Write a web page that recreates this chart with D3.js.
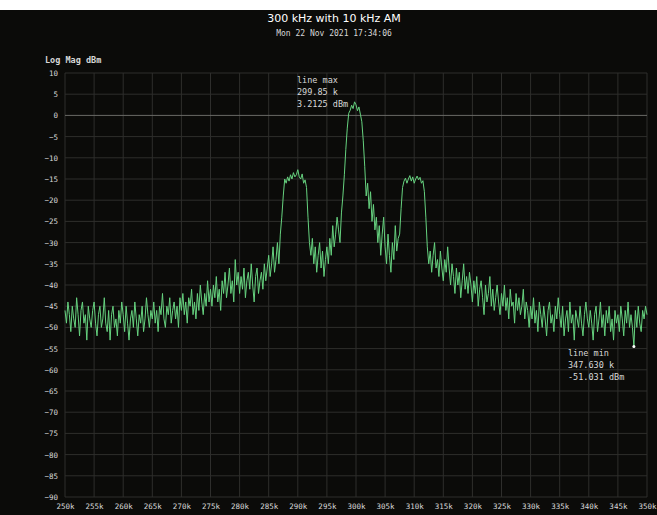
<!DOCTYPE html>
<html>
<head>
<meta charset="utf-8">
<script src="https://cdn.jsdelivr.net/npm/d3@7"></script>
<style>
  html, body { margin: 0; padding: 0; background: #0b0b09; }
  svg { display: block; }
</style>
</head>
<body>
<script>
// trace samples, one every 0.25 kHz from 250 kHz (rows of 5 kHz)
const START_KHZ = 250;
const STEP_KHZ = 0.25;
const LEVELS = [
  -46, -49, -44, -47, -51, -45, -48, -50, -43, -47, -52, -46, -44, -49, -47, -53, -45, -48, -50, -46,
  -44, -49, -52, -47, -45, -50, -48, -43, -49, -51, -46, -53, -47, -45, -50, -48, -52, -46, -49, -44,
  -47, -51, -45, -49, -53, -48, -46, -50, -44, -48, -52, -47, -49, -45, -51, -48, -43, -47, -50, -46,
  -48, -44, -49, -46, -51, -45, -47, -42, -48, -50, -45, -47, -43, -49, -46, -44, -48, -45, -50, -43,
  -46, -42, -47, -44, -49, -43, -45, -41, -47, -44, -48, -42, -46, -40, -44, -47, -42, -45, -39, -44,
  -41, -45, -40, -43, -38, -44, -41, -46, -39, -42, -37, -43, -40, -36, -42, -39, -44, -34, -40, -37,
  -42, -38, -41, -36, -43, -39, -37, -41, -35, -40, -44, -38, -36, -42, -39, -37, -41, -35, -39, -36,
  -33, -38, -35, -31, -37, -34, -30, -35, -28, -24, -19, -15, -16, -14.5, -15.5, -14, -15, -13.5, -14.5, -14,
  -12.8, -14.5, -15, -13.8, -16, -15.2, -17, -24, -30, -33, -29, -35, -31, -37, -33, -30, -36, -32, -38, -34,
  -31, -35, -29, -33, -26, -31, -28, -24, -27, -30, -23, -19, -14, -8, -3, 0.5, 1.2, 2.4, 1.6, 3.2,
  2.5, 1.1, 2.0, 0.3, -1.5, -6, -12, -19, -16, -22, -18, -25, -21, -27, -24, -30, -26, -33, -28, -24,
  -31, -35, -28, -33, -37, -30, -34, -26, -32, -29, -28, -22, -17, -15.5, -14.8, -16, -15, -14.2, -15.5, -14.5,
  -16, -15, -14.3, -15.2, -14.6, -16, -15.4, -18, -24, -31, -35, -32, -37, -33, -30, -36, -34, -38, -32, -36,
  -39, -34, -37, -31, -36, -40, -35, -38, -42, -36, -40, -37, -43, -39, -35, -41, -38, -42, -37, -40,
  -44, -39, -42, -38, -45, -41, -39, -43, -47, -40, -44, -42, -38, -45, -41, -46, -43, -40, -44, -47,
  -42, -45, -40, -46, -43, -48, -41, -45, -44, -49, -42, -46, -43, -47, -45, -41, -48, -44, -46, -50,
  -45, -48, -43, -49, -46, -51, -44, -47, -50, -45, -48, -52, -46, -44, -49, -47, -51, -45, -48, -43,
  -47, -50, -45, -52, -48, -46, -51, -44, -49, -47, -53, -46, -48, -50, -45, -49, -52, -47, -44, -48,
  -50, -46, -49, -53, -47, -45, -51, -48, -44, -50, -47, -52, -46, -49, -45, -51, -48, -53, -46, -49,
  -47, -51, -45, -48, -52, -46, -49, -44, -50, -47, -50, -54.5, -46, -50, -45, -49, -51, -46, -48, -45,
  -47
];

const X_TICKS = [250, 255, 260, 265, 270, 275, 280, 285, 290, 295, 300,
  305, 310, 315, 320, 325, 330, 335, 340, 345, 350];
const Y_TICKS = [10, 5, 0, -5, -10, -15, -20, -25, -30, -35, -40, -45,
  -50, -55, -60, -65, -70, -75, -80, -85, -90];

const MAX_MARK = { name: "line max", khz: 299.85, dbm: 3.2125, label: "299.85 k", value: "3.2125 dBm" };
const MIN_MARK = { name: "line min", khz: 347.63, dbm: -51.031, label: "347.630 k", value: "-51.031 dBm" };

const TITLE = "300 kHz with 10 kHz AM";
const SUBTITLE = "Mon 22 Nov 2021 17:34:06";
const Y_TITLE = "Log Mag dBm";

const width = 657,
  height = 515,
  plot = { left: 65, right: 647, top: 73, bottom: 497 },
  mono = "DejaVu Sans Mono",
  textCol = "#d8d8d8";

const data = LEVELS.map((v, i) => ({ khz: START_KHZ + i * STEP_KHZ, dbm: v }));

const svg = d3
  .select("body")
  .append("svg")
  .attr("width", width)
  .attr("height", height);

svg.append("rect")
  .attr("width", width)
  .attr("height", height)
  .attr("fill", "#0b0b09");

svg.append("rect")
  .attr("width", width)
  .attr("height", 10)
  .attr("fill", "#ffffff");

const xScale = d3.scaleLinear().domain([250, 350]).range([plot.left, plot.right]);
const yScale = d3.scaleLinear().domain([-90, 10]).range([plot.bottom, plot.top]);

// grid
svg.append("g")
  .selectAll("line")
  .data(X_TICKS)
  .enter()
  .append("line")
  .attr("x1", d => xScale(d))
  .attr("x2", d => xScale(d))
  .attr("y1", plot.top)
  .attr("y2", plot.bottom)
  .attr("stroke", "#2e2e2c")
  .attr("stroke-width", 1);

svg.append("g")
  .selectAll("line")
  .data(Y_TICKS)
  .enter()
  .append("line")
  .attr("x1", plot.left)
  .attr("x2", plot.right)
  .attr("y1", d => yScale(d))
  .attr("y2", d => yScale(d))
  .attr("stroke", d => (d === 0 ? "#6a6a66" : "#2e2e2c"))
  .attr("stroke-width", 1);

// axes as plain labels
const xAxis = d3.axisBottom(xScale).tickValues(X_TICKS).tickSize(0).tickFormat(d => d + "k");
svg.append("g")
  .attr("transform", `translate(0, ${plot.bottom + 4})`)
  .call(xAxis)
  .call(g => g.select(".domain").remove())
  .selectAll("text")
  .attr("font-family", mono)
  .attr("font-size", 7.5)
  .attr("fill", textCol);

const yAxis = d3.axisLeft(yScale).tickValues(Y_TICKS).tickSize(0);
svg.append("g")
  .attr("transform", `translate(${plot.left - 4}, 0)`)
  .call(yAxis)
  .call(g => g.select(".domain").remove())
  .selectAll("text")
  .attr("font-family", mono)
  .attr("font-size", 7.5)
  .attr("fill", textCol);

// trace
const line = d3.line()
  .x(d => xScale(d.khz))
  .y(d => yScale(d.dbm));

svg.append("path")
  .datum(data)
  .attr("d", line)
  .attr("fill", "none")
  .attr("stroke", "#66d27f")
  .attr("stroke-width", 1)
  .attr("stroke-linejoin", "round");

// titles
svg.append("text")
  .attr("x", 334)
  .attr("y", 22)
  .attr("text-anchor", "middle")
  .attr("font-family", "DejaVu Sans")
  .attr("font-size", 11)
  .attr("fill", "#ffffff")
  .text(TITLE);

svg.append("text")
  .attr("x", 334)
  .attr("y", 36)
  .attr("text-anchor", "middle")
  .attr("font-family", mono)
  .attr("font-size", 8)
  .attr("fill", textCol)
  .text(SUBTITLE);

svg.append("text")
  .attr("x", 45)
  .attr("y", 63)
  .attr("font-family", mono)
  .attr("font-size", 8.5)
  .attr("font-weight", "bold")
  .attr("fill", textCol)
  .text(Y_TITLE);

// markers
const nearest = k => data.reduce((a, b) => (Math.abs(b.khz - k) < Math.abs(a.khz - k) ? b : a));

const markText = (m, x, y) => {
  [m.name, m.label, m.value].forEach((t, i) => {
    svg.append("text")
      .attr("x", x)
      .attr("y", y + i * 12)
      .attr("font-family", mono)
      .attr("font-size", 8.5)
      .attr("fill", textCol)
      .text(t);
  });
};

markText(MAX_MARK, 297, 83);
markText(MIN_MARK, 568, 356);

const minPt = nearest(MIN_MARK.khz);
svg.append("circle")
  .attr("cx", xScale(minPt.khz))
  .attr("cy", yScale(minPt.dbm))
  .attr("r", 1.5)
  .attr("fill", "#ffffff");
</script>
</body>
</html>
